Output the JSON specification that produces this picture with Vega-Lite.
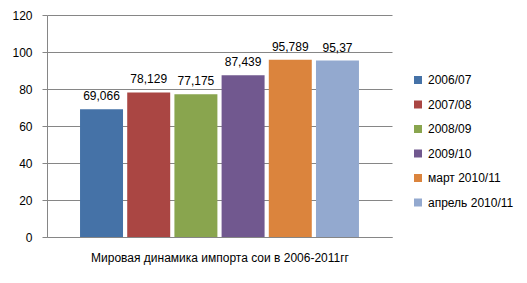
{
  "$schema": "https://vega.github.io/schema/vega-lite/v6.json",
  "width": 345,
  "height": 222,
  "autosize": {"type": "none"},
  "padding": {"left": 47, "top": 15, "right": 135, "bottom": 46},
  "background": "white",
  "config": {
    "font": "Liberation Sans",
    "view": {"stroke": null},
    "axis": {"labelFont": "Liberation Sans", "titleFont": "Liberation Sans"},
    "legend": {"labelFont": "Liberation Sans"}
  },
  "data": {
    "values": [
      {"season": "2006/07", "value": 69.066, "label": "69,066"},
      {"season": "2007/08", "value": 78.129, "label": "78,129"},
      {"season": "2008/09", "value": 77.175, "label": "77,175"},
      {"season": "2009/10", "value": 87.439, "label": "87,439"},
      {"season": "март 2010/11", "value": 95.789, "label": "95,789"},
      {"season": "апрель 2010/11", "value": 95.37, "label": "95,37"}
    ]
  },
  "encoding": {
    "x": {
      "field": "season",
      "type": "nominal",
      "sort": null,
      "scale": {"paddingInner": 0.089, "paddingOuter": 0.7},
      "axis": {
        "labels": false,
        "ticks": false,
        "domainColor": "#868686",
        "title": "Мировая динамика импорта сои в 2006-2011гг",
        "titleFontSize": 12,
        "titleFontWeight": "normal",
        "titleColor": "#000000",
        "titlePadding": 15
      }
    },
    "y": {
      "field": "value",
      "type": "quantitative",
      "scale": {"domain": [0, 120]},
      "axis": {
        "values": [0, 20, 40, 60, 80, 100, 120],
        "title": null,
        "labelFontSize": 12,
        "labelColor": "#000000",
        "labelPadding": 10,
        "tickSize": 5,
        "tickColor": "#868686",
        "domainColor": "#868686",
        "gridColor": "#868686",
        "grid": true
      }
    }
  },
  "layer": [
    {
      "mark": {"type": "bar"},
      "encoding": {
        "color": {
          "field": "season",
          "type": "nominal",
          "sort": null,
          "scale": {
            "domain": ["2006/07", "2007/08", "2008/09", "2009/10", "март 2010/11", "апрель 2010/11"],
            "range": ["#4572A7", "#AA4643", "#89A54E", "#71588F", "#DB843D", "#93A9CF"]
          },
          "legend": {
            "title": null,
            "orient": "none",
            "legendX": 365,
            "legendY": 59,
            "padding": 0,
            "symbolType": "square",
            "symbolSize": 64,
            "symbolStrokeWidth": 0,
            "labelFontSize": 12,
            "labelColor": "#000000",
            "labelOffset": 4,
            "rowPadding": 12.5,
            "labelLimit": 200
          }
        }
      }
    },
    {
      "mark": {"type": "text", "baseline": "bottom", "dy": -6, "fontSize": 12, "color": "#000000"},
      "encoding": {"text": {"field": "label"}}
    }
  ]
}
